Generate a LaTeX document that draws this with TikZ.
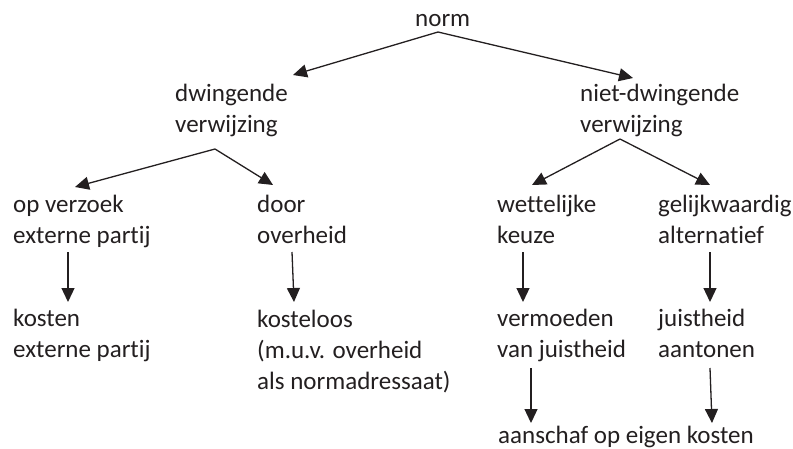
\documentclass[tikz,border=0pt]{standalone}
\usepackage{fontspec}
\setmainfont{Carlito}[Ligatures=NoCommon]
\usetikzlibrary{arrows.meta}
\definecolor{inkgray}{HTML}{231F20}
\tikzset{
  term/.style={anchor=base west,align=left,inner xsep=0pt,inner ysep=2pt,
               text=inkgray,font=\fontsize{25}{31}\selectfont},
  link/.style={-{Triangle[length=14pt,width=13pt]},line width=1.3pt,draw=inkgray}
}
\begin{document}
\begin{tikzpicture}[x=1pt,y=-1pt]
  \useasboundingbox (0,0) rectangle (793,448);
  % top
  \node[term] (norm) at (415,26) {norm};
  \node[term] (dw)  at (175,132) {dwingende\\verwijzing};
  \node[term] (ndw) at (580,132) {niet-dwingende\\verwijzing};
  % second level
  \node[term] (opv)  at (13,243)  {op verzoek\\externe partij};
  \node[term] (door) at (257,243) {door\\overheid};
  \node[term] (wet)  at (497,243) {wettelijke\\keuze};
  \node[term] (gel)  at (658,243) {gelijkwaardig\\alternatief};
  % third level
  \node[term] (kos)   at (13,357)  {kosten\\externe partij};
  \node[term] (kost)  at (257,389) {kosteloos\\(m.u.v. overheid\\als normadressaat)};
  \node[term] (verm)  at (497,357) {vermoeden\\van juistheid};
  \node[term] (juist) at (658,357) {juistheid\\aantonen};
  \node[term] (aan)   at (498,443) {aanschaf op eigen kosten};
  % arrows
  \draw[link] ([shift={(23,6)}]norm.base west) -- ([shift={(118,-57)}]dw.base west);
  \draw[link] ([shift={(23,6)}]norm.base west) -- ([shift={(53,-54)}]ndw.base west);
  \draw[link] ([shift={(40,17)}]dw.base west) -- ([shift={(62,-56)}]opv.base west);
  \draw[link] ([shift={(40,17)}]dw.base west) -- ([shift={(16,-58)}]door.base west);
  \draw[link] ([shift={(40,7)}]ndw.base west) -- ([shift={(35,-58)}]wet.base west);
  \draw[link] ([shift={(40,7)}]ndw.base west) -- ([shift={(52,-58)}]gel.base west);
  \draw[link] ([shift={(55,9)}]opv.base west) -- ([shift={(55,-55)}]kos.base west);
  \draw[link] ([shift={(35,9)}]door.base west) -- ([shift={(37,-87)}]kost.base west);
  \draw[link] ([shift={(26,9)}]wet.base west) -- ([shift={(26,-55)}]verm.base west);
  \draw[link] ([shift={(52,9)}]gel.base west) -- ([shift={(52,-55)}]juist.base west);
  \draw[link] ([shift={(34,11)}]verm.base west) -- ([shift={(33,-20)}]aan.base west);
  \draw[link] ([shift={(52,11)}]juist.base west) -- ([shift={(214,-20)}]aan.base west);
\end{tikzpicture}
\end{document}
